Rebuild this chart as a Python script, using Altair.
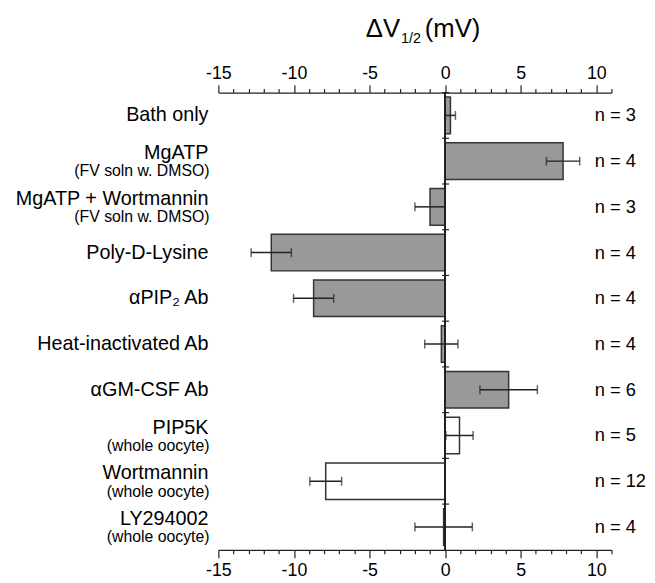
import altair as alt
import pandas as pd

main_labels = ["Bath only", "MgATP", "MgATP + Wortmannin", "Poly-D-Lysine", "αPIP₂ Ab",
               "Heat-inactivated Ab", "αGM-CSF Ab", "PIP5K", "Wortmannin", "LY294002"]
subtitles = ["", "(FV soln w. DMSO)", "(FV soln w. DMSO)", "", "", "", "",
             "(whole oocyte)", "(whole oocyte)", "(whole oocyte)"]
values = [0.35, 7.8, -1.0, -11.5, -8.7, -0.25, 4.2, 0.95, -7.9, -0.1]
errors = [0.33, 1.1, 1.0, 1.33, 1.33, 1.1, 1.9, 0.9, 1.05, 1.9]
n_counts = [3, 4, 3, 4, 4, 4, 6, 5, 12, 4]
groups = ["bath"] * 7 + ["oocyte"] * 3
x_ticks = list(range(-15, 12))

df = pd.DataFrame({"cat": main_labels, "sub": subtitles, "value": values,
                   "err": errors, "n": n_counts, "group": groups})
df["lo"] = df["value"] - df["err"]
df["hi"] = df["value"] + df["err"]
df["nlabel"] = "n = " + df["n"].astype(str)

FONT = "Liberation Sans"
xscale = alt.Scale(domain=[-15, 11], nice=False, zero=False)
yenc = alt.Y("cat:N", sort=main_labels, axis=None,
             scale=alt.Scale(paddingInner=0, paddingOuter=0))


def make_axis(orient, pad):
    return alt.Axis(orient=orient, values=x_ticks,
                    labelExpr="datum.value % 5 === 0 ? '' + datum.value : ''",
                    tickSize={"condition": {"test": "datum.value % 5 === 0", "value": 8}, "value": 4},
                    labelFontSize=18, labelFont=FONT, labelColor="black",
                    domainColor="#222222", tickColor="#222222", domainWidth=1.2, tickWidth=1.2,
                    labelPadding=pad, title=None, grid=False, labelFlush=False,
                    labelOverlap=False, labelBound=False)


base = alt.Chart(df)

bars = base.mark_bar(height={"band": 0.8}, stroke="#333333", strokeWidth=1.5).encode(
    x=alt.X("value:Q", scale=xscale, axis=make_axis("bottom", 4)),
    x2=alt.datum(0),
    y=yenc,
    fill=alt.Fill("group:N", scale=alt.Scale(domain=["bath", "oocyte"], range=["#999999", "#ffffff"]), legend=None),
)

zero_line = base.mark_rule(color="#222222", strokeWidth=1.5).encode(
    x=alt.X(datum=0, scale=xscale, axis=None)
)

zero_ticks = base.mark_rule(color="#222222", strokeWidth=1.2, xOffset=-3, x2Offset=4).encode(
    x=alt.X(datum=0, scale=xscale, axis=None),
    x2=alt.datum(0),
    y=alt.Y("cat:N", sort=main_labels, axis=None, bandPosition=0),
)

err_line = base.mark_rule(color="#222222", strokeWidth=1.5).encode(
    x=alt.X("lo:Q", scale=xscale, axis=make_axis("top", 2.5)),
    x2="hi:Q",
    y=yenc,
)
cap_lo = base.mark_tick(color="#222222", thickness=1.5, size=9).encode(
    x=alt.X("lo:Q", scale=xscale, axis=None), y=yenc)
cap_hi = base.mark_tick(color="#222222", thickness=1.5, size=9).encode(
    x=alt.X("hi:Q", scale=xscale, axis=None), y=yenc)

single = base.transform_filter("datum.sub == ''").mark_text(
    align="right", baseline="middle", font=FONT, fontSize=20, color="black").encode(
    x=alt.value(-10), y=yenc, text="cat:N")
double_main = base.transform_filter("datum.sub != ''").mark_text(
    align="right", baseline="middle", font=FONT, fontSize=20, color="black", dy=-8).encode(
    x=alt.value(-10), y=yenc, text="cat:N")
double_sub = base.transform_filter("datum.sub != ''").mark_text(
    align="right", baseline="middle", font=FONT, fontSize=16, color="black", dy=10.5).encode(
    x=alt.value(-9), y=yenc, text="sub:N")

n_text = base.mark_text(align="left", baseline="middle", font=FONT, fontSize=18.5, color="black").encode(
    x=alt.value(381), y=yenc, text="nlabel:N")

title_main = alt.Chart(pd.DataFrame({"t": ["ΔV"]})).mark_text(
    align="right", baseline="alphabetic", font=FONT, fontSize=26, color="black").encode(
    x=alt.value(184), y=alt.value(-56), text="t:N")
title_sub = alt.Chart(pd.DataFrame({"t": ["1/2"]})).mark_text(
    align="left", baseline="alphabetic", font=FONT, fontSize=14.5, color="black").encode(
    x=alt.value(185), y=alt.value(-50), text="t:N")
title_unit = alt.Chart(pd.DataFrame({"t": ["(mV)"]})).mark_text(
    align="left", baseline="alphabetic", font=FONT, fontSize=26, color="black").encode(
    x=alt.value(209), y=alt.value(-56), text="t:N")

chart = alt.layer(
    bars, zero_line, zero_ticks, err_line, cap_lo, cap_hi,
    single, double_main, double_sub, n_text, title_main, title_sub, title_unit
).resolve_axis(x="independent").properties(
    width=398, height=463,
    autosize=alt.AutoSizeParams(type="none"),
    padding={"left": 213, "top": 82, "right": 36, "bottom": 30},
).configure_view(strokeWidth=0)

chart.save("out.html", embed_options={"renderer": "svg", "actions": False})
